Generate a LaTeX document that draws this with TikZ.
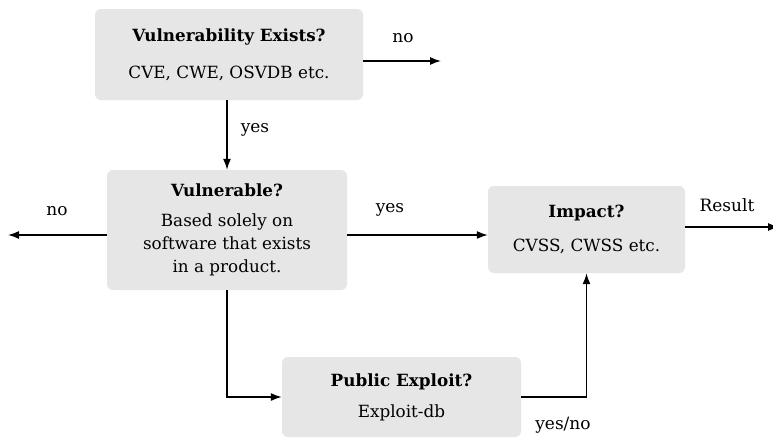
\documentclass[tikz,border=0pt]{standalone}
\usepackage{fontspec}
\setmainfont{DejaVu Serif}
\usetikzlibrary{arrows.meta}
\definecolor{boxgray}{HTML}{E6E6E6}
\tikzset{
  stepbox/.style={fill=boxgray, rounded corners=6pt, align=center, inner sep=0pt,
    font=\fontsize{16.8}{23}\selectfont},
  conn/.style={line width=1.4pt, -{Latex[length=11pt,width=8pt]}},
  lbl/.style={font=\fontsize{17}{20}\selectfont, inner sep=0pt}
}
\begin{document}
\begin{tikzpicture}[x=1pt,y=-1pt]
\clip (0,0) rectangle (773,437);
\fill[white] (0,0) rectangle (773,437);

% decision boxes
\node[stepbox, minimum width=268pt, minimum height=91pt] (exists) at (229,54.5)
  {\textbf{Vulnerability Exists?}\\[14pt] CVE, CWE, OSVDB etc.};
\node[stepbox, minimum width=240pt, minimum height=120pt] (vuln) at (227,230)
  {\textbf{Vulnerable?}\\[7pt] Based solely on\\ software that exists\\ in a product.};
\node[stepbox, minimum width=197pt, minimum height=87pt] (impact) at (586.5,229.5)
  {\textbf{Impact?}\\[11pt] CVSS, CWSS etc.};
\node[stepbox, minimum width=239pt, minimum height=80pt] (pub) at (401.5,397)
  {\textbf{Public Exploit?}\\[8pt] Exploit-db};

% free ends and connector heights
\coordinate (noR) at (441,61);
\coordinate (noL) at (8,235);
\coordinate (yesY) at (0,235);
\coordinate (res) at (779,227);

% connectors
\draw[conn] (exists.east |- noR) -- (noR);
\draw[conn] (exists.south -| vuln.north) -- (vuln.north);
\draw[conn] (vuln.west |- noL) -- (noL);
\draw[conn] (vuln.east |- yesY) -- (impact.west |- yesY);
\draw[conn] (impact.east |- res) -- (res);
\draw[conn] (vuln.south) |- (pub.west);
\draw[conn] (pub.east) -| (impact.south);

% labels
\node[lbl] (lno1) at (403,38) {no};
\node[lbl] (lyes1) at (255,130) {yes};
\node[lbl] (lno2) at (57,211) {no};
\node[lbl] (lyes2) at (390,210) {yes};
\node[lbl] (lres) at (727,205) {Result};
\node[lbl] (lyn) at (563,425) {yes/no};
\end{tikzpicture}
\end{document}
